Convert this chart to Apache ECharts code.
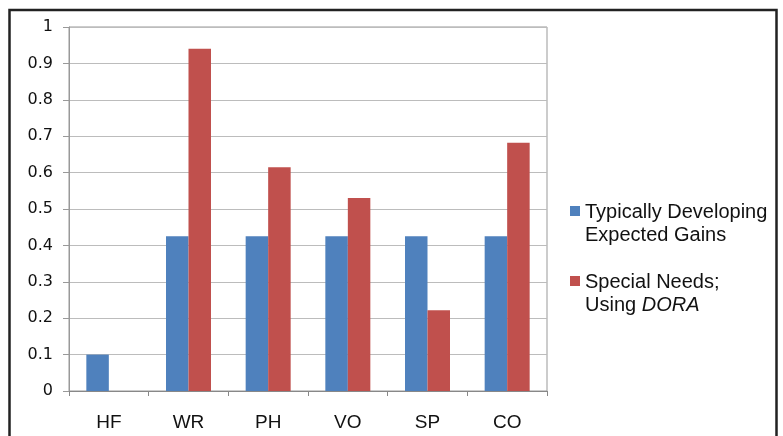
<!DOCTYPE html>
<html><head><meta charset="utf-8">
<script src="https://cdn.jsdelivr.net/npm/echarts@6/dist/echarts.min.js"></script>
<style>html,body{margin:0;padding:0;background:#fff}#c{width:783px;height:436px}</style>
</head><body><div id="c"></div>
<script>
var categories = ['HF', 'WR', 'PH', 'VO', 'SP', 'CO'];
var typicalGains = [0.1, 0.425, 0.425, 0.425, 0.425, 0.425];
var specialNeeds = [null, 0.94, 0.615, 0.53, 0.222, 0.682];
var yTicks = [0, 0.1, 0.2, 0.3, 0.4, 0.5, 0.6, 0.7, 0.8, 0.9, 1];
var seriesNames = ['Typically Developing\nExpected Gains', 'Special Needs;\nUsing {i|DORA}'];

var chart = echarts.init(document.getElementById('c'), null, {renderer: 'canvas'});
chart.setOption({
  animation: false,
  backgroundColor: '#fff',
  graphic: [{
    type: 'rect', silent: true, z: 100,
    shape: {x: 9.5, y: 10, width: 767, height: 440},
    style: {fill: 'none', stroke: '#222', lineWidth: 2.5}
  }],
  grid: {left: 69, right: 236, top: 27, bottom: 45, show: true, borderColor: '#999', borderWidth: 1},
  legend: {
    orient: 'vertical', left: 565, top: 170, itemGap: -2,
    itemWidth: 10, itemHeight: 10, icon: 'rect',
    textStyle: {fontFamily: 'Liberation Sans', fontSize: 20, lineHeight: 23, color: '#111',
      padding: [26, 0, 0, 0],
      rich: {i: {fontStyle: 'italic', fontFamily: 'Liberation Sans', fontSize: 20, lineHeight: 23, color: '#111'}}},
    data: seriesNames
  },
  xAxis: {
    type: 'category', data: categories,
    axisLine: {lineStyle: {color: '#888'}},
    axisTick: {show: true, length: 5, lineStyle: {color: '#888'}},
    axisLabel: {margin: 22, fontFamily: 'Liberation Sans', fontSize: 19, color: '#111'}
  },
  yAxis: {
    type: 'value', min: yTicks[0], max: yTicks[yTicks.length - 1], interval: 0.1,
    axisLine: {show: true, lineStyle: {color: '#999'}},
    axisTick: {show: true, length: 6, lineStyle: {color: '#999'}},
    splitLine: {lineStyle: {color: '#bcbcbc'}},
    axisLabel: {margin: 16, fontFamily: 'DejaVu Sans', fontSize: 16, color: '#111',
      formatter: function (v) { return Math.round(v * 10) / 10 + ''; }}
  },
  series: [
    {name: seriesNames[0], type: 'bar', data: typicalGains, barWidth: 22.5, barGap: '0%',
      itemStyle: {color: '#4F81BD'}},
    {name: seriesNames[1], type: 'bar', data: specialNeeds, barWidth: 22.5,
      itemStyle: {color: '#C0504D'}}
  ]
});
</script></body></html>
